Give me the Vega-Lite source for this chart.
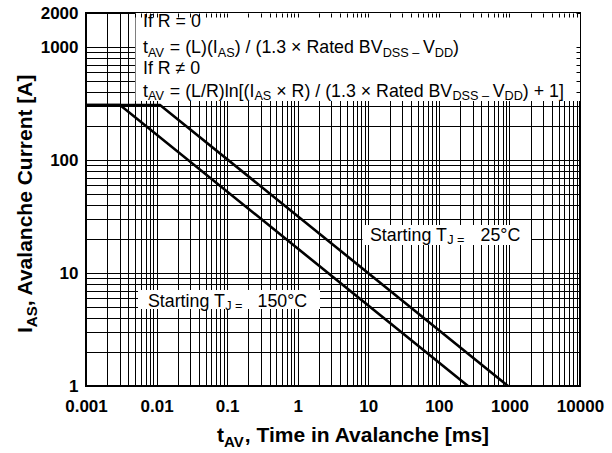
{
  "$schema": "https://vega.github.io/schema/vega-lite/v6.json",
  "width": 494,
  "height": 373,
  "autosize": {"type": "none"},
  "padding": {"left": 86, "top": 13, "right": 32, "bottom": 67},
  "background": "white",
  "config": {"view": {"stroke": "black", "strokeWidth": 2}, "font": "Liberation Sans"},
  "datasets": {
    "lines": [
      {"series": "150", "t": 0.001, "i": 307},
      {"series": "150", "t": 0.00303, "i": 307},
      {"series": "150", "t": 258.8, "i": 1},
      {"series": "25", "t": 0.001, "i": 307},
      {"series": "25", "t": 0.01118, "i": 307},
      {"series": "25", "t": 954.6, "i": 1}
    ],
    "boxes": [
      {"x": 0.00503, "x2": 10000, "y": 332.7, "y2": 2000},
      {"x": 0.005456, "x2": 2.069, "y": 4.801, "y2": 7.071},
      {"x": 8.28, "x2": 2021.9, "y": 17.69, "y2": 26.6}
    ],
    "texts": [
      {"k": "m", "s": "If R = 0", "x": 0.006423, "y": 1503},
      {"k": "m", "s": "t", "x": 0.006423, "y": 879.5},
      {"k": "s", "s": "AV", "x": 0.007548, "y": 879.5},
      {"k": "m", "s": "= (L)(I", "x": 0.015418, "y": 879.5},
      {"k": "s", "s": "AS", "x": 0.07375, "y": 879.5},
      {"k": "m", "s": ") / (1.3 × Rated BV", "x": 0.12818, "y": 879.5},
      {"k": "s", "s": "DSS –", "x": 15.99, "y": 879.5},
      {"k": "m", "s": "V", "x": 59.42, "y": 879.5},
      {"k": "s", "s": "DD", "x": 87.52, "y": 879.5},
      {"k": "m", "s": ")", "x": 159.22, "y": 879.5},
      {"k": "m", "s": "If R ≠ 0", "x": 0.006423, "y": 576.9},
      {"k": "m", "s": "t", "x": 0.006423, "y": 363.4},
      {"k": "s", "s": "AV", "x": 0.007548, "y": 363.4},
      {"k": "m", "s": "= (L/R)ln[(I", "x": 0.015418, "y": 363.4},
      {"k": "s", "s": "AS", "x": 0.2434, "y": 363.4},
      {"k": "m", "s": "× R) / (1.3 × Rated BV", "x": 0.49717, "y": 363.4},
      {"k": "s", "s": "DSS –", "x": 155.62, "y": 363.4},
      {"k": "m", "s": "V", "x": 578.35, "y": 363.4},
      {"k": "s", "s": "DD", "x": 851.9, "y": 363.4},
      {"k": "m", "s": ") + 1]", "x": 1549.7, "y": 363.4},
      {"k": "m", "s": "Starting T", "x": 0.00756, "y": 5.03},
      {"k": "s", "s": "J =", "x": 0.09386, "y": 5.03},
      {"k": "m", "s": "150°C", "x": 0.26928, "y": 5.03},
      {"k": "m", "s": "Starting T", "x": 10.576, "y": 19.31},
      {"k": "s", "s": "J =", "x": 131.3, "y": 19.31},
      {"k": "m", "s": "25°C", "x": 389.15, "y": 19.31},
      {"k": "xm", "s": "t", "x": 0.071826, "y": 0.31947},
      {"k": "xs", "s": "AV", "x": 0.09027, "y": 0.31947},
      {"k": "xm", "s": ", Time in Avalanche [ms]", "x": 0.17792, "y": 0.31947},
      {"k": "ym", "s": "I", "x": 0.00017171, "y": 2.9445},
      {"k": "ys", "s": "AS", "x": 0.00017171, "y": 3.3166},
      {"k": "ym", "s": ", Avalanche Current [A]", "x": 0.00017171, "y": 5.0704}
    ]
  },
  "resolve": {"axis": {"x": "independent", "y": "independent"}},
  "layer": [
    {
      "data": {"name": "boxes"},
      "mark": {"type": "rect", "fill": "white", "strokeWidth": 0},
      "encoding": {
        "x": {"field": "x", "type": "quantitative", "scale": {"type": "log", "domain": [0.001, 10000], "nice": false},
          "axis": {"orient": "top", "title": null, "values": [0.001,0.002,0.003,0.004,0.005,0.006,0.007,0.008,0.009,0.01,0.02,0.03,0.04,0.05,0.06,0.07,0.08,0.09,0.1,0.2,0.3,0.4,0.5,0.6,0.7,0.8,0.9,1,2,3,4,5,6,7,8,9,10,20,30,40,50,60,70,80,90,100,200,300,400,500,600,700,800,900,1000,2000,3000,4000,5000,6000,7000,8000,9000,10000],
            "labels": false, "domain": false, "grid": false, "ticks": true, "tickSize": -4, "tickColor": "black", "tickWidth": 1, "zindex": 1}},
        "x2": {"field": "x2"},
        "y": {"field": "y", "type": "quantitative", "scale": {"type": "log", "domain": [1, 2000], "nice": false},
          "axis": {"orient": "right", "title": null, "values": [1,2,3,4,5,6,7,8,9,10,20,30,40,50,60,70,80,90,100,200,300,400,500,600,700,800,900,1000,2000],
            "labels": false, "domain": false, "grid": false, "ticks": true, "tickSize": -4, "tickColor": "black", "tickWidth": 1, "zindex": 1}},
        "y2": {"field": "y2"}
      }
    },
    {
      "data": {"name": "lines"},
      "mark": {"type": "line", "color": "black", "strokeWidth": 2.6, "clip": true},
      "encoding": {
        "x": {"field": "t", "type": "quantitative", "scale": {"type": "log", "domain": [0.001, 10000], "nice": false},
          "axis": {"orient": "bottom", "title": null, "values": [0.001,0.002,0.003,0.004,0.005,0.006,0.007,0.008,0.009,0.01,0.02,0.03,0.04,0.05,0.06,0.07,0.08,0.09,0.1,0.2,0.3,0.4,0.5,0.6,0.7,0.8,0.9,1,2,3,4,5,6,7,8,9,10,20,30,40,50,60,70,80,90,100,200,300,400,500,600,700,800,900,1000,2000,3000,4000,5000,6000,7000,8000,9000,10000],
            "labelExpr": "indexof([0.001,0.01,0.1,1,10,100,1000,10000], datum.value) >= 0 ? format(datum.value, '~g') : ''",
            "labelOverlap": false, "labelFlush": false, "labelFont": "Liberation Sans", "labelFontWeight": "bold", "labelFontSize": 17, "labelColor": "black", "labelPadding": 12,
            "ticks": false, "tickSize": 0, "domain": false, "grid": true, "gridColor": "black", "gridWidth": 1, "gridOpacity": 1}},
        "y": {"field": "i", "type": "quantitative", "scale": {"type": "log", "domain": [1, 2000], "nice": false},
          "axis": {"orient": "left", "title": null, "values": [1,2,3,4,5,6,7,8,9,10,20,30,40,50,60,70,80,90,100,200,300,400,500,600,700,800,900,1000,2000],
            "labelExpr": "indexof([1,10,100,1000,2000], datum.value) >= 0 ? format(datum.value, '~g') : ''",
            "labelOverlap": false, "labelFlush": false, "labelFont": "Liberation Sans", "labelFontWeight": "bold", "labelFontSize": 17, "labelColor": "black", "labelPadding": 8,
            "ticks": false, "tickSize": 0, "domain": false, "grid": true, "gridColor": "black", "gridWidth": 1, "gridOpacity": 1}},
        "detail": {"field": "series"}
      }
    },
    {
      "data": {"name": "texts"},
      "transform": [{"filter": "datum.k == 'm'"}],
      "mark": {"type": "text", "align": "left", "baseline": "alphabetic", "font": "Liberation Sans", "fontSize": 17.8, "color": "black"},
      "encoding": {
        "x": {"field": "x", "type": "quantitative", "scale": {"type": "log", "domain": [0.001, 10000], "nice": false}, "axis": null},
        "y": {"field": "y", "type": "quantitative", "scale": {"type": "log", "domain": [1, 2000], "nice": false}, "axis": null},
        "text": {"field": "s"}
      }
    },
    {
      "data": {"name": "texts"},
      "transform": [{"filter": "datum.k == 's'"}],
      "mark": {"type": "text", "align": "left", "baseline": "alphabetic", "font": "Liberation Sans", "fontSize": 12.7, "dy": 3.5, "color": "black"},
      "encoding": {
        "x": {"field": "x", "type": "quantitative", "scale": {"type": "log", "domain": [0.001, 10000], "nice": false}, "axis": null},
        "y": {"field": "y", "type": "quantitative", "scale": {"type": "log", "domain": [1, 2000], "nice": false}, "axis": null},
        "text": {"field": "s"}
      }
    },
    {
      "data": {"name": "texts"},
      "transform": [{"filter": "datum.k == 'xm'"}],
      "mark": {"type": "text", "align": "left", "baseline": "alphabetic", "font": "Liberation Sans", "fontWeight": "bold", "fontSize": 21, "color": "black"},
      "encoding": {
        "x": {"field": "x", "type": "quantitative", "scale": {"type": "log", "domain": [0.001, 10000], "nice": false}, "axis": null},
        "y": {"field": "y", "type": "quantitative", "scale": {"type": "log", "domain": [1, 2000], "nice": false}, "axis": null},
        "text": {"field": "s"}
      }
    },
    {
      "data": {"name": "texts"},
      "transform": [{"filter": "datum.k == 'xs'"}],
      "mark": {"type": "text", "align": "left", "baseline": "alphabetic", "font": "Liberation Sans", "fontWeight": "bold", "fontSize": 15, "dy": 5, "color": "black"},
      "encoding": {
        "x": {"field": "x", "type": "quantitative", "scale": {"type": "log", "domain": [0.001, 10000], "nice": false}, "axis": null},
        "y": {"field": "y", "type": "quantitative", "scale": {"type": "log", "domain": [1, 2000], "nice": false}, "axis": null},
        "text": {"field": "s"}
      }
    },
    {
      "data": {"name": "texts"},
      "transform": [{"filter": "datum.k == 'ym'"}],
      "mark": {"type": "text", "align": "left", "baseline": "alphabetic", "angle": 270, "font": "Liberation Sans", "fontWeight": "bold", "fontSize": 21, "color": "black"},
      "encoding": {
        "x": {"field": "x", "type": "quantitative", "scale": {"type": "log", "domain": [0.001, 10000], "nice": false}, "axis": null},
        "y": {"field": "y", "type": "quantitative", "scale": {"type": "log", "domain": [1, 2000], "nice": false}, "axis": null},
        "text": {"field": "s"}
      }
    },
    {
      "data": {"name": "texts"},
      "transform": [{"filter": "datum.k == 'ys'"}],
      "mark": {"type": "text", "align": "left", "baseline": "alphabetic", "angle": 270, "font": "Liberation Sans", "fontWeight": "bold", "fontSize": 15, "dy": 5, "color": "black"},
      "encoding": {
        "x": {"field": "x", "type": "quantitative", "scale": {"type": "log", "domain": [0.001, 10000], "nice": false}, "axis": null},
        "y": {"field": "y", "type": "quantitative", "scale": {"type": "log", "domain": [1, 2000], "nice": false}, "axis": null},
        "text": {"field": "s"}
      }
    }
  ]
}
